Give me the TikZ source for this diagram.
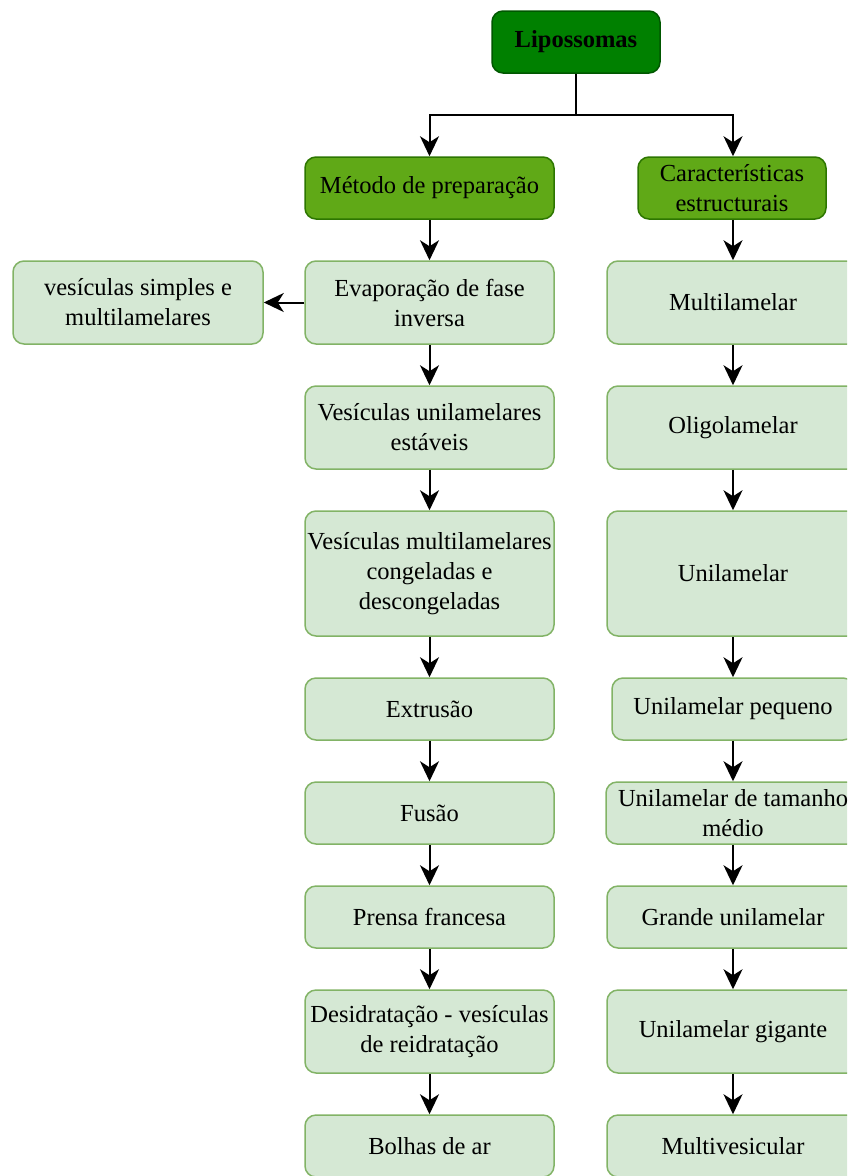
\documentclass[tikz,border=0pt]{standalone}
\usepackage{fontspec}
\setmainfont{Liberation Serif}
\usetikzlibrary{arrows.meta}
\definecolor{dkfill}{HTML}{008000}
\definecolor{dkline}{HTML}{005700}
\definecolor{mdfill}{HTML}{60A917}
\definecolor{mdline}{HTML}{2D7600}
\definecolor{ltfill}{HTML}{D5E8D4}
\definecolor{ltline}{HTML}{82B366}
\tikzset{
  base/.style={rounded corners=11pt, line width=1.5pt, align=center, inner sep=0pt,
    font=\fontsize{24.5}{30}\selectfont},
  topbox/.style={base, fill=dkfill, draw=dkline, font=\fontsize{24.5}{30}\selectfont\bfseries},
  midbox/.style={base, fill=mdfill, draw=mdline},
  ltbox/.style={base, fill=ltfill, draw=ltline},
  conn/.style={line width=2pt, draw=black},
  arr/.style={conn, -{Stealth[length=20pt,width=19pt,inset=6pt]}}
}
\begin{document}
\begin{tikzpicture}[x=1pt,y=-1pt]
\clip (0,0) rectangle (847,1176);
% top
\node[topbox, minimum width=168pt, minimum height=62pt] (lip) at (576,42) {Lipossomas};
\node[midbox, minimum width=249pt, minimum height=62pt] (met) at (429.5,188) {Método de preparação};
\node[midbox, minimum width=188pt, minimum height=62pt] (car) at (732,188) {Características\\estructurais};
% left column
\node[ltbox, minimum width=249pt, minimum height=83pt] (evap) at (429.5,302.5) {Evaporação de fase\\inversa};
\node[ltbox, minimum width=250pt, minimum height=83pt] (simp) at (138,302.5) {vesículas simples e\\multilamelares};
\node[ltbox, minimum width=249pt, minimum height=83pt] (vue) at (429.5,427.5) {Vesículas unilamelares\\estáveis};
\node[ltbox, minimum width=249pt, minimum height=125pt] (vmc) at (429.5,573.5) {Vesículas multilamelares\\congeladas e\\descongeladas};
\node[ltbox, minimum width=249pt, minimum height=62pt] (ext) at (429.5,709) {Extrusão};
\node[ltbox, minimum width=249pt, minimum height=62pt] (fus) at (429.5,813) {Fusão};
\node[ltbox, minimum width=249pt, minimum height=62pt] (pre) at (429.5,917) {Prensa francesa};
\node[ltbox, minimum width=249pt, minimum height=83pt] (des) at (429.5,1031.5) {Desidratação - vesículas\\de reidratação};
\node[ltbox, minimum width=249pt, minimum height=62pt] (bol) at (429.5,1146) {Bolhas de ar};
% right column
\node[ltbox, minimum width=252pt, minimum height=83pt] (mul) at (733,302.5) {Multilamelar};
\node[ltbox, minimum width=252pt, minimum height=83pt] (oli) at (733,427.5) {Oligolamelar};
\node[ltbox, minimum width=252pt, minimum height=125pt] (uni) at (733,573.5) {Unilamelar};
\node[ltbox, minimum width=242pt, minimum height=62pt] (upe) at (733,709) {Unilamelar pequeno};
\node[ltbox, minimum width=254pt, minimum height=62pt] (umd) at (733,813) {Unilamelar de tamanho\\médio};
\node[ltbox, minimum width=252pt, minimum height=62pt] (gru) at (733,917) {Grande unilamelar};
\node[ltbox, minimum width=252pt, minimum height=83pt] (ugi) at (733,1031.5) {Unilamelar gigante};
\node[ltbox, minimum width=252pt, minimum height=62pt] (mve) at (733,1146) {Multivesicular};
% connectors
\coordinate (split) at (576,115);
\draw[conn] (lip.south) -- (split);
\draw[arr] (split) -| (met.north);
\draw[arr] (split) -| ([xshift=1pt]car.north);
\draw[arr] (met) -- (evap);
\draw[arr] (evap) -- (simp);
\draw[arr] (evap) -- (vue);
\draw[arr] (vue) -- (vmc);
\draw[arr] (vmc) -- (ext);
\draw[arr] (ext) -- (fus);
\draw[arr] (fus) -- (pre);
\draw[arr] (pre) -- (des);
\draw[arr] (des) -- (bol);
\draw[arr] ([xshift=1pt]car.south) -- (mul.north);
\draw[arr] (mul) -- (oli);
\draw[arr] (oli) -- (uni);
\draw[arr] (uni) -- (upe);
\draw[arr] (upe) -- (umd);
\draw[arr] (umd) -- (gru);
\draw[arr] (gru) -- (ugi);
\draw[arr] (ugi) -- (mve);
\end{tikzpicture}
\end{document}
